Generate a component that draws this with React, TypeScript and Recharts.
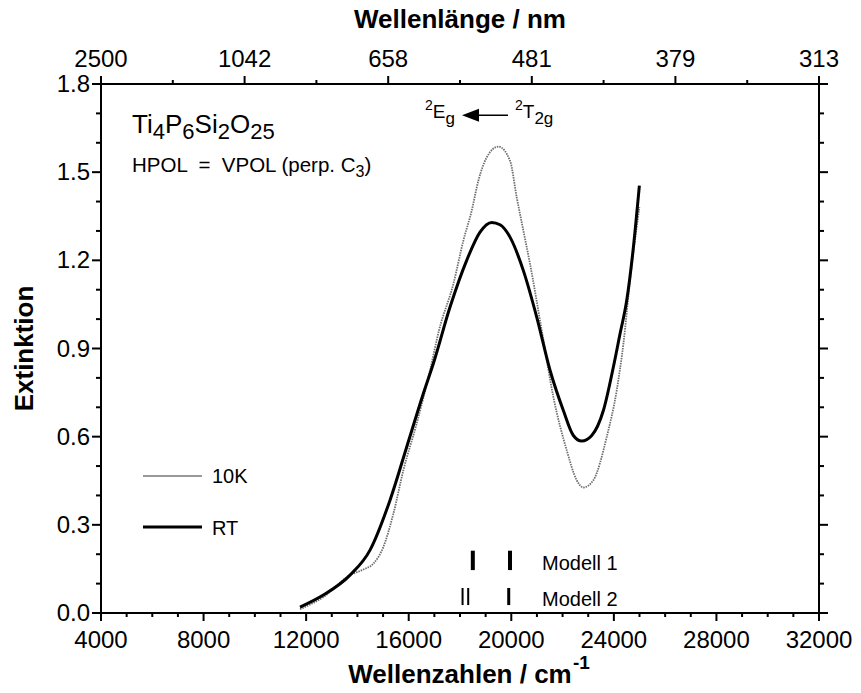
import React from 'react';
import { ComposedChart, Line, XAxis, YAxis, ReferenceLine, ReferenceDot } from 'recharts';

const FONT = '"Liberation Sans", Arial, Helvetica, sans-serif';

// RT spectrum (thick black)
const rtWavenumber = [11761, 12670, 13711, 14491, 15271, 15922, 16571, 16961, 17611, 18261, 18781, 19236, 19561, 19951, 20471, 20992, 21511, 22031, 22421, 22748, 23138, 23591, 23981, 24241, 24501, 24761, 24995];
const rtExtinction = [0.02, 0.061, 0.129, 0.214, 0.384, 0.565, 0.747, 0.849, 1.041, 1.2, 1.296, 1.329, 1.321, 1.279, 1.165, 1.007, 0.826, 0.689, 0.604, 0.585, 0.604, 0.689, 0.837, 0.95, 1.063, 1.244, 1.454];

// 10K spectrum (thin gray dotted)
const k10Wavenumber = [11761, 12670, 13711, 14232, 14622, 15012, 15402, 15792, 16312, 16832, 17182, 17742, 18131, 18456, 18716, 19041, 19496, 19951, 20211, 20471, 20731, 21187, 21641, 22161, 22551, 22811, 23201, 23722, 24112, 24372, 24631, 24995];
const k10Extinction = [0.013, 0.054, 0.129, 0.148, 0.168, 0.225, 0.338, 0.486, 0.645, 0.826, 0.962, 1.12, 1.267, 1.369, 1.471, 1.55, 1.587, 1.539, 1.415, 1.301, 1.188, 0.962, 0.735, 0.554, 0.452, 0.427, 0.452, 0.599, 0.758, 0.916, 1.131, 1.381];

// model transition markers
const model1Positions = [18500, 19950];
const model1Widths = [4, 4];
const model2Positions = [18100, 18320, 19900];
const model2Widths = [2, 2, 3];
const model1Range = [0.146, 0.212];
const model2Range = [0.027, 0.085];

// axes
const bottomTicks = [4000, 5000, 6000, 7000, 8000, 9000, 10000, 11000, 12000, 13000, 14000, 15000, 16000, 17000, 18000, 19000, 20000, 21000, 22000, 23000, 24000, 25000, 26000, 27000, 28000, 29000, 30000, 31000, 32000];
const bottomMajorTicks = [4000, 8000, 12000, 16000, 20000, 24000, 28000, 32000];
const topTicks = [4000, 6800, 9600, 12400, 15200, 18000, 20800, 23600, 26400, 29200, 32000];
const topMajorTicks = [4000, 9600, 15200, 20800, 26400, 32000];
const topTickLabels = ['2500', '1042', '658', '481', '379', '313'];
const yTicks = [0, 0.1, 0.2, 0.3, 0.4, 0.5, 0.6, 0.7, 0.8, 0.9, 1.0, 1.1, 1.2, 1.3, 1.4, 1.5, 1.6, 1.7, 1.8];
const yMajorTicks = [0, 0.3, 0.6, 0.9, 1.2, 1.5, 1.8];
const yTickLabels = ['0.0', '0.3', '0.6', '0.9', '1.2', '1.5', '1.8'];

const rtData = rtWavenumber.map((x, i) => ({ x, e: rtExtinction[i] }));
const k10Data = k10Wavenumber.map((x, i) => ({ x, e: k10Extinction[i] }));

const TICK_FS = 24;
const isIn = (arr: number[], v: number) => arr.findIndex((a) => Math.abs(a - v) < 1e-6);

const BottomTick = (props: any) => {
  const { x, y, payload } = props;
  const idx = isIn(bottomMajorTicks, payload.value);
  const major = idx >= 0;
  return (
    <g>
      <line x1={x} x2={x} y1={y} y2={y + (major ? 8 : 4)} stroke="#000" strokeWidth={2} />
      {major && (
        <text x={x} y={y + 35} textAnchor="middle" fontSize={TICK_FS} fontFamily={FONT} fill="#000">
          {String(payload.value)}
        </text>
      )}
    </g>
  );
};

const TopTick = (props: any) => {
  const { x, y, payload } = props;
  const idx = isIn(topMajorTicks, payload.value);
  const major = idx >= 0;
  return (
    <g>
      <line x1={x} x2={x} y1={y} y2={y - (major ? 8 : 4)} stroke="#000" strokeWidth={2} />
      {major && (
        <text x={x} y={y - 17} textAnchor="middle" fontSize={TICK_FS} fontFamily={FONT} fill="#000">
          {topTickLabels[idx]}
        </text>
      )}
    </g>
  );
};

const LeftTick = (props: any) => {
  const { x, y, payload } = props;
  const idx = isIn(yMajorTicks, payload.value);
  const major = idx >= 0;
  return (
    <g>
      <line x1={x} x2={x - (major ? 9 : 5)} y1={y} y2={y} stroke="#000" strokeWidth={2} />
      {major && (
        <text x={x - 11} y={y + 8} textAnchor="end" fontSize={TICK_FS} fontFamily={FONT} fill="#000">
          {yTickLabels[idx]}
        </text>
      )}
    </g>
  );
};

const RightTick = (props: any) => {
  const { x, y, payload } = props;
  const major = isIn(yMajorTicks, payload.value) >= 0;
  return <line x1={x} x2={x + (major ? 9 : 5)} y1={y} y2={y} stroke="#000" strokeWidth={2} />;
};

const BottomTitle = (p: any) => {
  const vb = p.viewBox || p;
  const cx = vb.x + vb.width / 2;
  return (
    <g>
      <text x={cx} y={683} textAnchor="middle" fontSize={26} fontWeight="bold" fontFamily={FONT} fill="#000">
        Wellenzahlen / cm
      </text>
      <text x={cx + 113} y={669} textAnchor="start" fontSize={19} fontWeight="bold" fontFamily={FONT} fill="#000">
        -1
      </text>
    </g>
  );
};

const TopTitle = (p: any) => {
  const vb = p.viewBox || p;
  const cx = vb.x + vb.width / 2;
  return (
    <text x={cx} y={28} textAnchor="middle" fontSize={26} fontWeight="bold" fontFamily={FONT} fill="#000">
      Wellenlänge / nm
    </text>
  );
};

const LeftTitle = (p: any) => {
  const vb = p.viewBox || p;
  const cy = vb.y + vb.height / 2;
  return (
    <text
      x={33}
      y={cy}
      transform={`rotate(-90 33 ${cy})`}
      textAnchor="middle"
      fontSize={26}
      fontWeight="bold"
      fontFamily={FONT}
      fill="#000"
    >
      Extinktion
    </text>
  );
};

const textLabel = (content: (x: number, y: number) => React.ReactNode) => (p: any) => {
  const vb = p.viewBox || {};
  return content(vb.x, vb.y);
};

export default function App() {
  return (
    <div style={{ position: 'absolute', left: 0, top: 0 }}>
      <ComposedChart width={861} height={693} margin={{ top: 0, right: 0, bottom: 0, left: 0 }}>
        <XAxis
          xAxisId={0}
          dataKey="x"
          type="number"
          domain={[4000, 32000]}
          ticks={bottomTicks}
          interval={0}
          height={80}
          orientation="bottom"
          tickSize={0}
          tickMargin={0}
          tickLine={false}
          axisLine={{ stroke: '#000', strokeWidth: 2 }}
          tick={BottomTick}
          allowDataOverflow
          label={BottomTitle}
        />
        <XAxis
          xAxisId="top"
          dataKey="x"
          type="number"
          domain={[4000, 32000]}
          ticks={topTicks}
          interval={0}
          height={84}
          orientation="top"
          tickSize={0}
          tickMargin={0}
          tickLine={false}
          axisLine={{ stroke: '#000', strokeWidth: 2 }}
          tick={TopTick}
          allowDataOverflow
          label={TopTitle}
        />
        <YAxis
          yAxisId={0}
          type="number"
          domain={[0, 1.8]}
          ticks={yTicks}
          interval={0}
          width={101}
          orientation="left"
          tickSize={0}
          tickMargin={0}
          tickLine={false}
          axisLine={{ stroke: '#000', strokeWidth: 2 }}
          tick={LeftTick}
          allowDataOverflow
          label={LeftTitle}
        />
        <YAxis
          yAxisId="right"
          type="number"
          domain={[0, 1.8]}
          ticks={yTicks}
          interval={0}
          width={42}
          orientation="right"
          tickSize={0}
          tickMargin={0}
          tickLine={false}
          axisLine={{ stroke: '#000', strokeWidth: 2 }}
          tick={RightTick}
          allowDataOverflow
        />

        <Line
          data={k10Data}
          dataKey="e"
          type="monotone"
          stroke="#6e6e6e"
          strokeWidth={1.8}
          strokeDasharray="1.5 1"
          dot={false}
          activeDot={false}
          isAnimationActive={false}
        />
        <Line
          data={rtData}
          dataKey="e"
          type="monotone"
          stroke="#000"
          strokeWidth={3}
          dot={false}
          activeDot={false}
          isAnimationActive={false}
        />

        {model1Positions.map((x, i) => (
          <ReferenceLine
            key={`m1-${i}`}
            segment={[{ x, y: model1Range[0] }, { x, y: model1Range[1] }]}
            stroke="#000"
            strokeWidth={model1Widths[i]}
          />
        ))}
        {model2Positions.map((x, i) => (
          <ReferenceLine
            key={`m2-${i}`}
            segment={[{ x, y: model2Range[0] }, { x, y: model2Range[1] }]}
            stroke="#000"
            strokeWidth={model2Widths[i]}
          />
        ))}
        <ReferenceDot
          x={21198}
          y={0.146}
          r={0}
          stroke="none"
          fill="none"
          label={textLabel((x, y) => (
            <text x={x} y={y} fontSize={20} fontFamily={FONT} fill="#000">Modell 1</text>
          ))}
        />
        <ReferenceDot
          x={21198}
          y={0.024}
          r={0}
          stroke="none"
          fill="none"
          label={textLabel((x, y) => (
            <text x={x} y={y} fontSize={20} fontFamily={FONT} fill="#000">Modell 2</text>
          ))}
        />

        {/* legend */}
        <ReferenceLine segment={[{ x: 5638, y: 0.466 }, { x: 7939, y: 0.466 }]} stroke="#999" strokeWidth={2} />
        <ReferenceLine segment={[{ x: 5638, y: 0.293 }, { x: 7939, y: 0.293 }]} stroke="#000" strokeWidth={3} />
        <ReferenceDot
          x={8329}
          y={0.442}
          r={0}
          stroke="none"
          fill="none"
          label={textLabel((x, y) => (
            <text x={x} y={y} fontSize={20} fontFamily={FONT} fill="#000">10K</text>
          ))}
        />
        <ReferenceDot
          x={8329}
          y={0.265}
          r={0}
          stroke="none"
          fill="none"
          label={textLabel((x, y) => (
            <text x={x} y={y} fontSize={20} fontFamily={FONT} fill="#000">RT</text>
          ))}
        />

        {/* sample title */}
        <ReferenceDot
          x={5209}
          y={1.633}
          r={0}
          stroke="none"
          fill="none"
          label={textLabel((x, y) => (
            <text x={x} y={y} fontSize={26} fontFamily={FONT} fill="#000">
              Ti<tspan fontSize={22} dy={6}>4</tspan>
              <tspan dy={-6}>P</tspan>
              <tspan fontSize={22} dy={6}>6</tspan>
              <tspan dy={-6}>Si</tspan>
              <tspan fontSize={22} dy={6}>2</tspan>
              <tspan dy={-6}>O</tspan>
              <tspan fontSize={22} dy={6}>25</tspan>
            </text>
          ))}
        />
        <ReferenceDot
          x={5209}
          y={1.5}
          r={0}
          stroke="none"
          fill="none"
          label={textLabel((x, y) => (
            <text x={x} y={y} fontSize={20.5} fontFamily={FONT} fill="#000" xmlSpace="preserve">
              {'HPOL  =  VPOL (perp. C'}
              <tspan fontSize={16} dy={5}>3</tspan>
              <tspan dy={-5}>)</tspan>
            </text>
          ))}
        />

        {/* transition arrow */}
        <ReferenceLine segment={[{ x: 19872, y: 1.694 }, { x: 18500, y: 1.694 }]} stroke="#000" strokeWidth={1.5} />
        <ReferenceDot
          x={18078}
          y={1.694}
          r={0}
          stroke="none"
          fill="none"
          label={textLabel((x, y) => (
            <polygon points={`${x},${y} ${x + 17},${y - 6.5} ${x + 17},${y + 6.5}`} fill="#000" />
          ))}
        />
        <ReferenceDot
          x={16635}
          y={1.684}
          r={0}
          stroke="none"
          fill="none"
          label={textLabel((x, y) => (
            <text x={x} y={y} fontSize={19} fontFamily={FONT} fill="#000">
              <tspan fontSize={14} dy={-8}>2</tspan>
              <tspan dy={8}>E</tspan>
              <tspan fontSize={17} dy={6}>g</tspan>
            </text>
          ))}
        />
        <ReferenceDot
          x={20145}
          y={1.684}
          r={0}
          stroke="none"
          fill="none"
          label={textLabel((x, y) => (
            <text x={x} y={y} fontSize={19} fontFamily={FONT} fill="#000">
              <tspan fontSize={14} dy={-8}>2</tspan>
              <tspan dy={8}>T</tspan>
              <tspan fontSize={17} dy={6}>2g</tspan>
            </text>
          ))}
        />
      </ComposedChart>
    </div>
  );
}
